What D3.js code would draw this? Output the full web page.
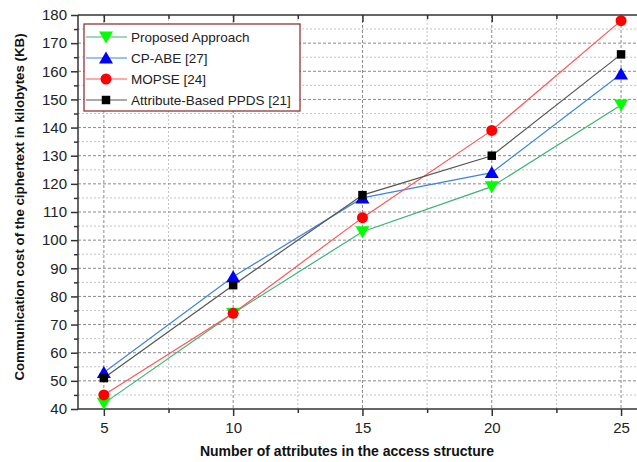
<!DOCTYPE html>
<html><head><meta charset="utf-8">
<script src="https://cdn.jsdelivr.net/npm/d3@7"></script>
<style>body{margin:0;background:#fff}svg{display:block}</style>
</head><body>
<script>
const xValues = [5, 10, 15, 20, 25];
const proposed = [42, 74, 103, 119, 148];
const cpabe = [53, 87, 115, 124, 159];
const mopse = [45, 74, 108, 139, 178];
const ppds = [51, 84, 116, 130, 166];
const seriesNames = ["Proposed Approach", "CP-ABE [27]", "MOPSE [24]", "Attribute-Based PPDS [21]"];
const xTicks = [5, 10, 15, 20, 25];
const yTicks = [40, 50, 60, 70, 80, 90, 100, 110, 120, 130, 140, 150, 160, 170, 180];

const series = [
  {name: seriesNames[0], vals: proposed, line: "#3cb371", mark: "#00ff00", sym: "tridown"},
  {name: seriesNames[1], vals: cpabe, line: "#3d85e0", mark: "#0000ff", sym: "triup"},
  {name: seriesNames[2], vals: mopse, line: "#ff5555", mark: "#ff0000", sym: "circle"},
  {name: seriesNames[3], vals: ppds, line: "#555555", mark: "#000000", sym: "square"}
];

const W = 637, H = 462;
const L = 78, T = 15, B = 409;
const svg = d3.select("body").append("svg").attr("width", W).attr("height", H)
  .style("font-family", "Arial, 'Liberation Sans', sans-serif");

const x = d3.scaleLinear().domain([4, 26]).range([L, L + 22 * 25.86]);
const y = d3.scaleLinear().domain([40, 180]).range([B, T]);
const R = x(26);

const minorXv = d3.range(7.5, 26, 5);
const minorY = d3.range(45, 180, 10);

const g = svg.append("g");
// grid
g.selectAll(".gyM").data(minorY).join("line")
  .attr("x1", L).attr("x2", R).attr("y1", d => y(d)).attr("y2", d => y(d))
  .attr("stroke", "#c4c4c4").attr("stroke-width", 1).attr("stroke-dasharray", "2,2");
g.selectAll(".gxM").data(minorXv).join("line")
  .attr("y1", T).attr("y2", B).attr("x1", d => x(d)).attr("x2", d => x(d))
  .attr("stroke", "#c4c4c4").attr("stroke-width", 1).attr("stroke-dasharray", "2,2");
g.selectAll(".gy").data(yTicks.slice(1, -1)).join("line")
  .attr("x1", L).attr("x2", R).attr("y1", d => y(d)).attr("y2", d => y(d))
  .attr("stroke", "#8a8a8a").attr("stroke-width", 1).attr("stroke-dasharray", "3,2");
g.selectAll(".gx").data(xTicks).join("line")
  .attr("y1", T).attr("y2", B).attr("x1", d => x(d)).attr("x2", d => x(d))
  .attr("stroke", "#8a8a8a").attr("stroke-width", 1).attr("stroke-dasharray", "3,2");

// axes
const axisColor = "#333";
svg.append("g").attr("transform", `translate(${L},0)`)
  .call(d3.axisLeft(y).tickValues(yTicks).tickSize(7).tickPadding(4));
svg.append("g").attr("transform", `translate(${L},0)`)
  .call(d3.axisLeft(y).tickValues(minorY).tickSize(4).tickFormat(""));
svg.append("g").attr("transform", `translate(0,${B})`)
  .call(d3.axisBottom(x).tickValues(xTicks).tickSize(7).tickPadding(6));
svg.append("g").attr("transform", `translate(0,${B})`)
  .call(d3.axisBottom(x).tickValues(minorXv).tickSize(4).tickFormat(""));
svg.append("g").attr("transform", `translate(0,${T})`)
  .call(d3.axisBottom(x).tickValues(xTicks).tickSize(7).tickFormat(""));
svg.append("g").attr("transform", `translate(0,${T})`)
  .call(d3.axisBottom(x).tickValues(minorXv).tickSize(4).tickFormat(""));
svg.selectAll(".domain").remove();
svg.selectAll(".tick line").attr("stroke", axisColor).attr("stroke-width", 1.5);
svg.selectAll(".tick text").attr("font-size", 15).attr("fill", "#222")
  .style("font-family", "Arial, 'Liberation Sans', sans-serif");
svg.append("line").attr("x1", L).attr("x2", R).attr("y1", B).attr("y2", B).attr("stroke", axisColor).attr("stroke-width", 1.5);
svg.append("line").attr("x1", L).attr("x2", R).attr("y1", T).attr("y2", T).attr("stroke", axisColor).attr("stroke-width", 1.5);
svg.append("line").attr("x1", L).attr("x2", L).attr("y1", T).attr("y2", B).attr("stroke", axisColor).attr("stroke-width", 1.5);

// lines and markers
const line = d3.line().x((d, i) => x(xValues[i])).y(d => y(d));
function symbolPath(sym) {
  if (sym === "circle") return d3.symbol(d3.symbolCircle, 95)();
  if (sym === "square") return d3.symbol(d3.symbolSquare, 72)();
  if (sym === "triup") return "M0,-6.5L7,5.5L-7,5.5Z";
  return "M0,6.5L7,-5.5L-7,-5.5Z";
}
series.forEach(s => {
  svg.append("path").attr("d", line(s.vals)).attr("fill", "none")
    .attr("stroke", s.line).attr("stroke-width", 1.2);
});
series.forEach(s => {
  svg.selectAll(null).data(s.vals).join("path")
    .attr("d", symbolPath(s.sym))
    .attr("transform", (d, i) => `translate(${x(xValues[i])},${y(d)})`)
    .attr("fill", s.mark);
});

// legend
const lg = svg.append("g");
lg.append("rect").attr("x", 84).attr("y", 24).attr("width", 216).attr("height", 87)
  .attr("fill", "#fff").attr("stroke", "#8b2323").attr("stroke-width", 1.2);
series.forEach((s, i) => {
  const yy = 37 + i * 21;
  lg.append("line").attr("x1", 86).attr("x2", 127).attr("y1", yy).attr("y2", yy)
    .attr("stroke", s.line).attr("stroke-width", 1.2);
  lg.append("path").attr("d", symbolPath(s.sym)).attr("transform", `translate(106,${yy})`).attr("fill", s.mark);
  lg.append("text").attr("x", 131).attr("y", yy + 5).attr("font-size", 13.5).attr("fill", "#222").text(s.name);
});

// axis titles
svg.append("text").attr("x", 347).attr("y", 456).attr("text-anchor", "middle")
  .attr("font-size", 14).attr("font-weight", "bold").attr("fill", "#111")
  .text("Number of attributes in the access structure");
svg.append("text").attr("transform", "translate(24,207) rotate(-90)").attr("text-anchor", "middle")
  .attr("font-size", 13.3).attr("font-weight", "bold").attr("fill", "#111")
  .text("Communication cost of the ciphertext in kilobytes (KB)");
</script>
</body></html>
